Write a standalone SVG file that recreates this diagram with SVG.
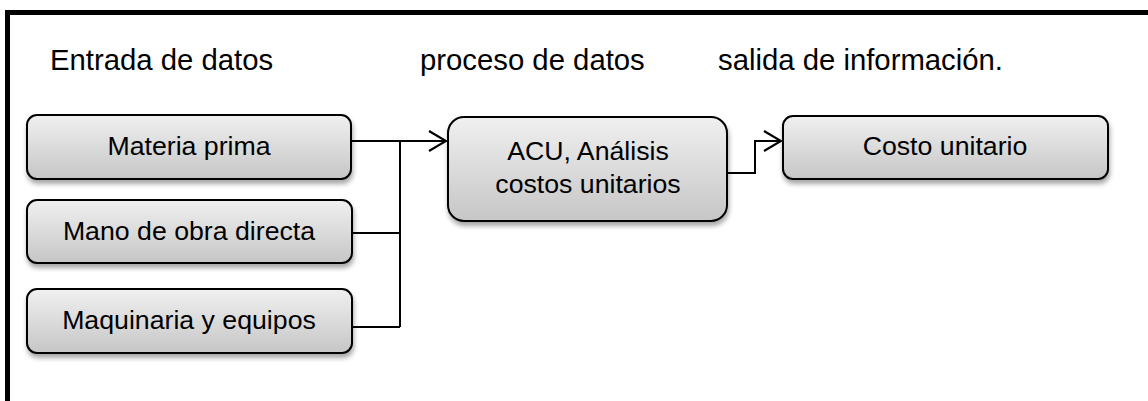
<svg xmlns="http://www.w3.org/2000/svg" width="1148" height="401" viewBox="0 0 1148 401">
<style>
.title{font-family:"Liberation Sans",Arial,sans-serif;font-size:29.3px;fill:#000}
.lbl{font-family:"Liberation Sans",Arial,sans-serif;font-size:26.7px;fill:#000;text-anchor:middle}
.box{fill:url(#g);stroke:#000;stroke-width:2;filter:url(#sh)}
.conn{fill:none;stroke:#000;stroke-width:2}
</style>
<defs>
<linearGradient id="g" x1="0" y1="0" x2="0" y2="1">
<stop offset="0" stop-color="#f0f0f0"/>
<stop offset="1" stop-color="#c6c6c6"/>
</linearGradient>
<filter id="sh" x="-10%" y="-10%" width="120%" height="140%">
<feGaussianBlur in="SourceAlpha" stdDeviation="2.5"/>
<feOffset dx="1" dy="4" result="b"/>
<feComponentTransfer><feFuncA type="linear" slope="0.35"/></feComponentTransfer>
<feMerge><feMergeNode/><feMergeNode in="SourceGraphic"/></feMerge>
</filter>
<marker id="arr" viewBox="0 0 20 22" markerWidth="20" markerHeight="22" refX="18" refY="11" markerUnits="userSpaceOnUse" orient="auto">
<path d="M1,1 L18,11 L1,21" fill="none" stroke="#000" stroke-width="2.2"/>
</marker>
</defs>
<rect width="1148" height="401" fill="#fff"/>
<path d="M7.5,401 V12.5 H1148" fill="none" stroke="#000" stroke-width="5"/>
<g id="titles">
<text class="title" x="50" y="70">Entrada de datos</text>
<text class="title" x="420" y="70">proceso de datos</text>
<text class="title" x="718" y="70">salida de información.</text>
</g>
<g id="connectors">
<path class="conn" d="M351,141 H446" marker-end="url(#arr)"/>
<path class="conn" d="M352,233 H400 M352,327 H400 M400,141 V327"/>
<path class="conn" d="M727,173 H755 V141 H781" marker-end="url(#arr)"/>
</g>
<g id="n1"><rect class="box" x="27" y="115" width="324" height="64" rx="10"/><text class="lbl" x="189" y="155">Materia prima</text></g>
<g id="n2"><rect class="box" x="27" y="200" width="325" height="63" rx="10"/><text class="lbl" x="189" y="240">Mano de obra directa</text></g>
<g id="n3"><rect class="box" x="27" y="289" width="325" height="64" rx="10"/><text class="lbl" x="189" y="329">Maquinaria y equipos</text></g>
<g id="n4"><rect class="box" x="448" y="117" width="279" height="104" rx="16"/><text class="lbl" x="588" y="160">ACU, Análisis</text><text class="lbl" x="588" y="193">costos unitarios</text></g>
<g id="n5"><rect class="box" x="783" y="116" width="325" height="63" rx="10"/><text class="lbl" x="945" y="155">Costo unitario</text></g>
</svg>
